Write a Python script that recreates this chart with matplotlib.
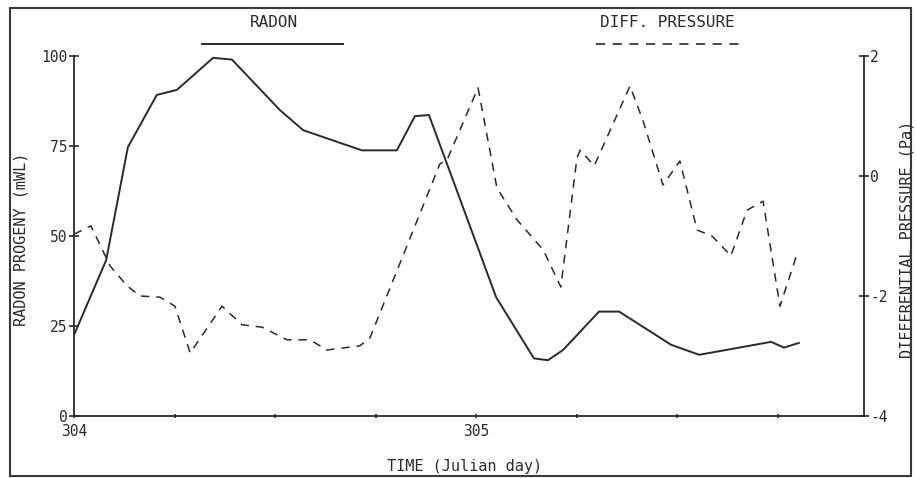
#!/usr/bin/env python3
"""Radon progeny and differential pressure over two Julian days."""

import matplotlib

matplotlib.use("Agg")
from matplotlib import pyplot as plt
from matplotlib.lines import Line2D
from matplotlib.patches import Rectangle
from matplotlib.ticker import FixedLocator

# Radon progeny (mWL) against Julian day
radon_day = [304.000, 304.080, 304.134, 304.206, 304.256, 304.346, 304.393,
             304.512, 304.570, 304.716, 304.803, 304.848, 304.883, 305.050,
             305.144, 305.179, 305.216, 305.306, 305.356, 305.485, 305.555,
             305.734, 305.766, 305.803]
radon_mwl = [22.5, 43.3, 74.7, 89.2, 90.6, 99.5, 99.0,
             85.0, 79.4, 73.8, 73.8, 83.3, 83.6, 33.0,
             16.0, 15.5, 18.3, 29.0, 29.0, 19.8, 17.0,
             20.6, 19.0, 20.3]

# Differential pressure (Pa) against Julian day
pressure_day = [304.000, 304.042, 304.090, 304.132, 304.164, 304.214, 304.251,
                304.289, 304.368, 304.418, 304.468, 304.530, 304.587, 304.629,
                304.711, 304.736, 304.910, 304.928, 305.005, 305.052, 305.102,
                305.167, 305.211, 305.251, 305.259, 305.294, 305.383, 305.415,
                305.465, 305.507, 305.550, 305.587, 305.634, 305.674, 305.714,
                305.756, 305.801]
pressure_pa = [-0.97, -0.83, -1.50, -1.83, -2.00, -2.02, -2.17,
               -2.95, -2.17, -2.48, -2.52, -2.73, -2.73, -2.90,
               -2.83, -2.70, 0.20, 0.27, 1.47, -0.20, -0.73,
               -1.23, -1.85, 0.30, 0.43, 0.17, 1.50, 0.93,
               -0.15, 0.25, -0.90, -1.00, -1.33, -0.57, -0.42,
               -2.17, -1.25]

radon_ticks = [0, 25, 50, 75, 100]
pressure_ticks = [-4, -2, 0, 2]
day_ticks = [304.0, 304.25, 304.5, 304.75, 305.0, 305.25, 305.5, 305.75]
day_labels = {304.0: "304", 305.0: "305"}

INK = "#2a2a2a"
plt.rcParams["font.family"] = "DejaVu Sans Mono"

fig = plt.figure(figsize=(9.16, 4.78), dpi=100)
ax = fig.add_axes([0.0808, 0.1297, 0.8624, 0.7531])
ax2 = ax.twinx()

ax.plot(radon_day, radon_mwl, color=INK, lw=1.4)
ax2.plot(pressure_day, pressure_pa, color=INK, lw=1.1, dashes=(5.5, 4.5))

ax.set_xlim(304.0, 305.965)
ax.set_ylim(0, 100)
ax2.set_ylim(-4, 2)

for a in (ax, ax2):
    a.spines["top"].set_visible(False)
    for spine in a.spines.values():
        spine.set_color(INK)
        spine.set_linewidth(1.3)
ax.spines["right"].set_visible(False)
ax2.spines["left"].set_visible(False)
ax2.spines["bottom"].set_visible(False)

ax.set_yticks(radon_ticks)
ax.set_yticklabels([str(t) for t in radon_ticks])
ax2.set_yticks(pressure_ticks)
ax2.set_yticklabels([str(t) for t in pressure_ticks])
ax.xaxis.set_major_locator(FixedLocator(day_ticks))
ax.set_xticklabels([day_labels.get(t, "") for t in day_ticks])

tick_style = dict(direction="inout", length=7, width=1.2, color=INK,
                  labelcolor=INK, labelsize=10.5, pad=1)
ax.tick_params(axis="y", **tick_style)
ax2.tick_params(axis="y", **tick_style)
ax.tick_params(axis="x", direction="inout", length=3, width=1.2, color=INK,
               labelcolor=INK, labelsize=10.5, pad=4)

ax.set_ylabel("RADON PROGENY (mWL)", fontsize=11, color=INK)
ax.yaxis.set_label_coords(-0.057, 0.49)
ax2.set_ylabel("DIFFERENTIAL PRESSURE (Pa)", fontsize=11, color=INK)
ax2.yaxis.set_label_coords(1.045, 0.49)
ax.set_xlabel("TIME (Julian day)", fontsize=11, color=INK)
ax.xaxis.set_label_coords(0.494, -0.119)

# Key above the plot: caption with a sample of each line style
ax.text(0.253, 1.092, "RADON", transform=ax.transAxes, ha="center",
        va="center", fontsize=11.5, color=INK)
ax.add_line(Line2D([0.162, 0.341], [1.033, 1.033], transform=ax.transAxes,
                   color=INK, lw=1.4, clip_on=False))
ax.text(0.751, 1.092, "DIFF. PRESSURE", transform=ax.transAxes, ha="center",
        va="center", fontsize=11.5, color=INK)
ax.add_line(Line2D([0.661, 0.842], [1.033, 1.033], transform=ax.transAxes,
                   color=INK, lw=1.2, dashes=(5.5, 4.5), clip_on=False))

# Outer frame round the whole figure
fig.add_artist(Rectangle((10 / 916, 2 / 478), 901 / 916, 468 / 478,
                         transform=fig.transFigure, fill=False,
                         edgecolor="#3a3a3a", lw=1.5))

fig.savefig("out.png", dpi=100)
plt.close(fig)
